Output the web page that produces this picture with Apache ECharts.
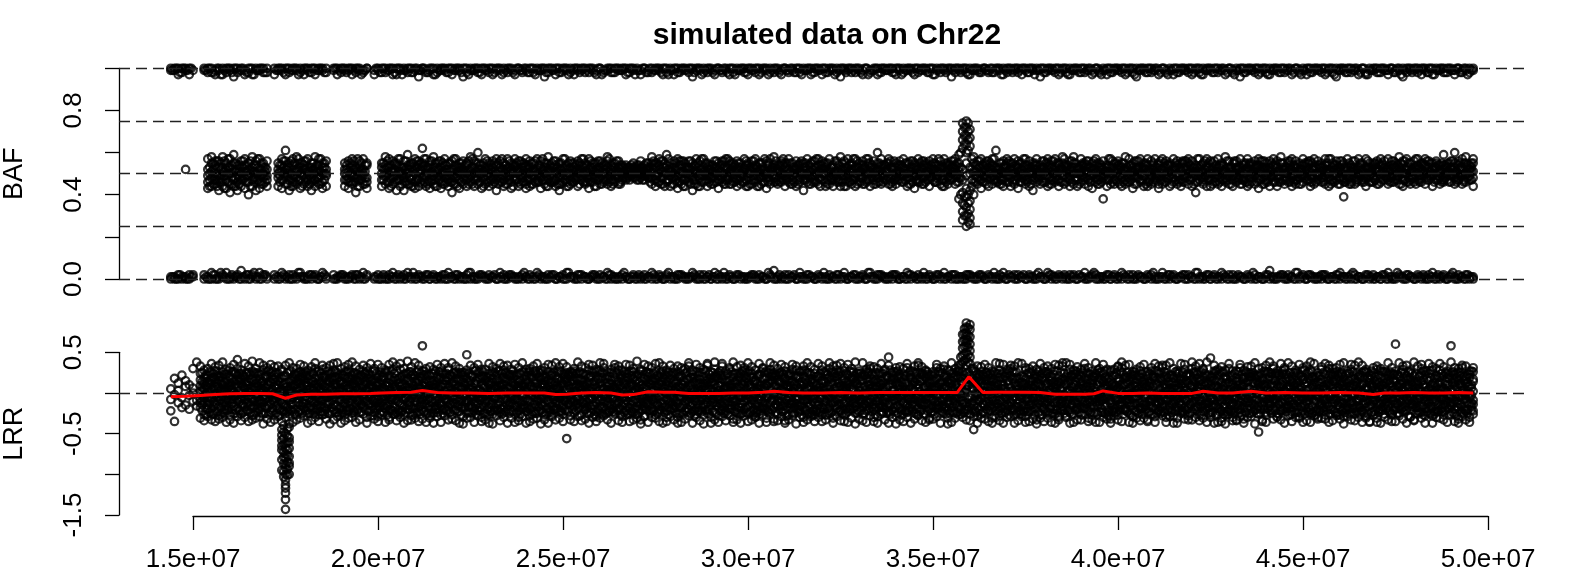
<!DOCTYPE html>
<html><head><meta charset="utf-8">
<script src="https://cdn.jsdelivr.net/npm/echarts/dist/echarts.min.js"></script>
<style>html,body{margin:0;padding:0;background:#fff}#c{width:1585px;height:576px}</style>
</head><body><div id="c"></div>
<script>
const chartTitle = 'simulated data on Chr22';
const POS_UNIT = 1e5; // positions in the tables are in units of 100 kb
const xTickValues = [1.5e7, 2.0e7, 2.5e7, 3.0e7, 3.5e7, 4.0e7, 4.5e7, 5.0e7];
const xTickLabels = ['1.5e+07','2.0e+07','2.5e+07','3.0e+07','3.5e+07','4.0e+07','4.5e+07','5.0e+07'];
const bafLabelValues = [0, 0.4, 0.8];
const lrrLabelValues = [-1.5, -0.5, 0.5];
const bafRefLines = [0, 0.25, 0.5, 0.75, 1];
const lrrRefLines = [0];

// BAF table: position : values near 1 : heterozygous values : values near 0 (hundredths)
const bafTable = `
144:100 99::0 1
145:99 100::1 0
146:97 100::0 2
147:100 98::1 0
148:99 100:52:0 1
149:100 97::2 0
150:99::2 1
153:99 100::0 2
154:100 98:52 46 57 43 49:1 0
155:98 100:48 55 44 51 58:0 3
156:99 97:50 45 54 47 56:2 0
157:100 99:53 42 49 56 46:0 1
158:97 100:47 51 58 44 53:1 2
159:100 98:55 49 43 52 47:3 0
160:99 100:45 53 50 57 41:0 1
161:100 96:51 47 55 44 59:1 0
162:98 100:49 54 42 52 46:2 1
163:100 99:56 44 50 47 53:0 4
164:99 97:43 51 57 48 54:1 0
165:100 98:52 40 46 55 49:0 2
166:97 100:47 53 44 58 51:2 1
167:100 99:54 48 42 50 56:0 1
168:99 100:46 52 57 43 49:3 0
169:100 98:50 55 45 53 48:1 2
170:98 100:44 49 56 52 47:0 1
172:100 97::2 0
173:99 100:48 55 50 44 52:0 1
174:100 99:51 43 57 47 54:1 3
175:97 100:45 52 49 56 61:0 1
176:100 98:55 47 53 42 50:2 0
177:99 100:49 54 46 57 44:0 2
178:100 99:52 45 58 48 51:1 0
179:98 100:47 53 43 55 50:3 1
180:100 97:54 49 56 45 52:0 1
181:99 100:50 44 51 57 47:1 0
182:100 98:46 55 48 53 42:0 2
183:97 100:53 47 52 44 58:2 1
184:100 99:48 51 57 45 54:0 0
185:99 100:55 50 46 53 43:1 3
186:100 98:44 52 49 56 50:0 1
188:99 100::2 0
189:100 97::0 1
190:98 100::1 2
191:100 99:52 47 55 44 50:0 1
192:99 100:48 56 43 51 46:1 0
193:100 97:54 50 45 57 49:2 1
194:98 100:46 53 41 52 48:0 2
195:100 99:51 44 56 47 53:1 0
196:99 98:57 49 52 45 50:0 3
197:100 100:43 54 48 55 46:2 1
199:99 97::1 0
200:100 99::0 2
201:98 100:50 55 47 53 44:1 0
202:100 98:45 52 58 49 54:0 1
203:99 100:53 46 50 43 57:2 0
204:100 97:48 56 51 45 52:1 3
205:97 100:55 42 49 54 47:0 1
206:100 99:51 47 57 44 50:1 0
207:99 100:46 53 48 56 42:0 2
208:100 98:54 50 45 52 59:3 1
209:98 100:49 44 55 47 53:0 1
210:100 99:52 57 43 50 46:1 0
211:99 96:47 51 56 44 54:2 1
212:100 100:55 48 53 62 45:0 1
213:99 98:44 52 49 57 50:1 2
214:100 99:50 46 54 43 56:0 0
215:97 100:53 49 45 58 47:2 1
216:100 98:48 55 51 44 52:0 1
217:99 100:56 43 50 53 46:1 0
218:100 99:45 51 57 48 54:0 2
219:98 100:52 47 44 55 49:3 0
220:100 97:49 56 52 46 41:1 1
221:99 100:54 45 50 57 48:0 2
222:100 99:47 53 43 51 55:1 0
223:96 100:51 48 56 45 52:0 1
224:100 98:55 50 47 54 44:2 0
225:99 100:46 52 58 49 51:0 3
226:100 99:53 44 50 56 47:1 0
227:98 100:48 55 45 52 60:0 1
228:100 97:52 49 54 43 50:2 1
229:99 100:45 57 51 47 53:1 0
230:100 98:50 46 55 52 44:0 2
231:97 100:56 51 48 45 53:1 1
232:100 99:47 54 42 50 57:0 0
233:99 100:53 48 56 46 51:3 1
234:100 98:44 52 49 55 47:0 2
235:98 100:51 57 45 53 49:1 0
236:100 99:55 46 50 43 52:2 1
237:99 97:48 53 57 47 54:0 1
238:100 100:52 44 51 56 46:1 0
239:99 98:46 55 48 53 50:0 2
240:100 99:54 49 45 57 43:1 1
241:98 100:50 53 47 44 56:2 0
242:100 98:45 51 55 49 52:0 1
243:99 100:57 47 52 46 50:1 3
244:100 99:49 56 43 53 48:0 1
245:96 100:53 45 50 55 47:1 0
246:100 98:47 52 58 44 51:0 2
247:99 100:55 48 46 53 50:2 1
248:100 97:44 54 51 47 56:0 0
249:98 100:52 49 55 45 42:1 1
250:100 99:48 57 50 53 46:0 2
251:99 100:54 46 52 44 49:3 0
252:100 98:50 53 47 56 45:1 1
253:97 100:46 51 55 48 53:0 1
254:100 99:56 48 44 52 50:2 0
255:99 100:49 54 47 51 57:0 2
256:100 98:53 45 50 46 55:1 1
257:98 100:47 52 57 49 43:0 0
258:100 99:51 55 46 53 48:2 1
259:99 97:55 49 52 44 50:1 0
260:100 100:45 53 48 56 51:0 2
261:99 98:52 47 54 50 46:1 1
262:100 99:48 56 45 53 58:0 3
263:98 100:54 50 47 52 44:2 0
264:100 98:46 53 51 55 49:0 1
265:99 100:51 45 56 48 53:1 0
266:100 99:53 49 47 54 50:0 2
267:97 100:50 52 48 54 47:1 1
268:100 98:52 49 51 47 53:0 0
269:99 100:48 53 50 52 55:2 1
270:100 99:51 47 54 49 52:0 1
271:99 97:53 50 48 52 56:1 0
272:100 100:49 54 51 47 50:0 2
273:98 99:52 48 55 50 53:1 1
274:100 98:55 45 51 58 48:3 0
275:99 100:47 53 49 55 44:0 1
276:100 99:52 57 46 50 54:1 2
277:97 100:45 51 56 48 53:0 0
278:100 98:54 47 50 59 46:2 1
279:99 100:49 55 44 52 51:0 1
280:100 97:56 48 53 45 50:1 0
281:98 100:46 52 57 49 43:0 2
282:100 99:51 45 54 48 56:2 1
283:99 100:53 50 47 55 44:1 0
284:100 98:48 56 52 46 53:0 1
285:96 100:55 47 49 53 42:1 3
286:100 99:50 54 45 51 57:0 1
287:99 100:44 52 56 48 50:2 0
288:100 98:53 46 51 57 49:0 2
289:98 100:49 55 47 44 53:1 1
290:100 99:52 48 54 50 45:0 0
291:99 97:46 53 50 56 51:3 1
292:100 100:55 49 43 52 47:0 2
293:99 98:50 56 48 54 46:1 0
294:100 99:47 52 57 45 53:0 1
295:97 100:54 45 51 49 56:2 1
296:100 98:48 53 46 55 50:0 0
297:99 100:52 47 56 44 51:1 2
298:100 99:45 55 50 53 48:0 1
299:98 100:57 49 53 46 52:1 0
300:100 97:50 44 55 48 54:0 1
301:99 100:53 51 47 56 45:2 1
302:100 98:46 54 52 49 57:1 0
303:97 100:51 48 44 55 50:0 2
304:100 99:55 52 49 46 53:1 1
305:99 100:48 56 51 43 50:0 0
306:100 98:52 45 57 50 47:2 1
307:98 100:49 53 46 54 58:0 4
308:100 99:54 47 52 45 51:1 0
309:99 97:46 55 50 56 48:0 1
310:100 100:51 49 53 44 55:2 0
311:99 98:57 46 48 52 50:0 2
312:100 99:45 53 55 49 47:1 1
313:98 100:52 50 44 56 53:0 0
314:100 98:48 54 51 46 55:3 1
315:99 100:55 47 53 50 42:1 0
316:100 99:50 52 46 57 49:0 2
317:97 100:53 45 55 48 51:1 1
318:100 98:47 56 49 53 46:0 0
319:99 100:51 48 57 45 54:2 1
320:100 97:54 52 47 50 56:0 1
321:98 100:46 50 53 55 44:1 0
322:100 99:52 57 45 49 51:0 2
323:99 100:49 44 54 47 53:1 1
324:100 98:55 51 48 56 46:2 0
325:96 100:50 47 52 44 58:0 1
326:100 99:44 53 56 51 49:1 3
327:99 100:57 49 46 53 50:0 0
328:100 98:47 55 52 45 54:1 1
329:98 100:53 50 44 57 48:2 0
330:100 99:49 46 55 51 53:0 1
331:99 97:52 54 48 45 56:1 2
332:100 100:46 51 57 50 47:0 0
333:99 98:55 48 53 44 51:3 1
334:100 99:50 56 47 52 45:1 0
335:97 100:48 52 55 46 60:0 2
336:100 98:54 45 50 57 49:2 1
337:99 100:47 53 49 54 51:0 1
338:100 99:51 57 45 48 55:1 0
339:98 100:53 49 52 46 44:0 2
340:100 97:45 55 50 53 48:2 1
341:99 100:56 47 54 51 49:0 0
342:100 98:49 53 46 57 52:1 1
343:99 100:52 44 55 48 50:0 3
344:100 99:47 56 51 53 45:2 0
345:97 100:55 50 43 49 54:1 1
346:100 98:50 46 57 52 47:0 2
347:99 100:53 52 48 45 56:1 0
348:100 99:46 54 50 55 49:0 1
349:98 100:51 48 56 44 53:2 1
350:100 97:55 57 47 50 52:0 0
351:99 100:48 51 54 46 49:1 2
352:100 98:52 45 50 56 53:0 1
353:99 100:57 49 53 47 44:3 0
354:100 99:45 54 51 48 55:1 1
355:96 100:50 47 56 53 51:0 2
356:100 98:54 52 45 49 57:2 0
357:99 100:48 55 51 46 53 59 38:0 1
358:100 99:52 62 66 70 74 28 32 36 41 47:1 0
359:98 100:49 60 64 68 72 75 25 30 34 39 43 55:0 2
360:100 97:53 63 67 71 26 29 33 37 42 50:2 1
361:99 100:46 55 58 40 51:1 0
362:100 99:52 48 56 45 54:0 1
363:99 98:47 53 50 57 43:1 2
364:100 100:55 49 46 52 48:0 0
365:98 99:50 56 53 44 51:2 1
366:100 98:45 52 57 49 54:0 1
367:99 100:53 47 50 61 46:1 0
368:100 99:48 55 52 45 50:0 2
369:97 100:56 50 47 53 44:3 1
370:100 98:51 46 55 49 57:0 0
371:99 100:44 53 48 52 55:1 1
372:100 99:52 57 45 50 47:2 0
373:98 100:49 51 56 43 53:0 2
374:100 97:55 46 52 48 50:1 1
375:99 100:47 54 49 57 45:0 0
376:100 98:53 48 44 51 56:2 1
377:99 100:50 55 47 53 42:1 0
378:100 99:46 52 57 49 54:0 2
379:96 100:54 49 51 45 52:1 1
380:100 98:48 56 53 50 46:0 0
381:99 100:52 44 49 55 57:3 1
382:100 99:45 53 56 47 51:0 2
383:98 100:57 50 46 53 48:1 0
384:100 97:51 47 54 44 55:2 1
385:99 100:49 55 52 58 46:0 1
386:100 98:54 46 48 51 53:1 0
387:97 100:47 52 56 49 44:0 2
388:100 99:53 58 45 50 55:2 1
389:99 100:50 44 53 47 52:0 0
390:100 98:46 51 57 54 49:1 1
391:98 100:55 48 50 45 53:0 3
392:100 99:44 53 47 56 51:1 0
393:99 97:52 49 55 43 50:2 1
394:100 100:48 57 51 46 54:0 2
395:99 98:55 45 49 53 47:1 0
396:100 99:50 52 38 56 48:0 1
397:97 100:47 54 53 44 51:2 1
398:100 98:53 49 57 50 45:0 0
399:99 100:45 51 47 55 52:1 2
400:100 99:56 46 52 49 54:0 1
401:98 100:50 55 44 53 48:3 0
402:100 97:47 52 58 51 45:1 1
403:99 100:54 48 50 46 57:0 2
404:100 98:49 53 55 43 51:2 0
405:96 100:52 45 48 56 53:0 1
406:100 99:46 57 51 50 47:1 1
407:99 100:55 49 53 44 52:0 0
408:100 98:51 44 46 54 57:2 1
409:98 100:48 56 52 49 45:0 2
410:100 99:53 50 57 47 51:1 0
411:99 97:45 54 49 55 43:0 1
412:100 100:57 47 52 45 50:3 1
413:99 98:50 53 46 56 48:1 0
414:100 99:44 51 55 49 54:0 2
415:97 100:53 57 48 52 46:2 1
416:100 98:49 45 54 50 56:0 0
417:99 100:55 52 47 44 51:1 1
418:100 99:46 49 56 53 48:0 2
419:98 100:52 55 50 45 57:2 0
420:100 97:48 44 53 56 50:1 1
421:99 100:54 51 46 49 41:0 3
422:100 98:50 57 52 47 53:1 0
423:97 100:45 48 55 51 46:0 1
424:100 99:53 54 49 57 44:2 1
425:99 100:47 50 44 52 56:0 0
426:100 98:56 46 51 48 53:1 2
427:98 100:51 53 57 45 49:0 1
428:100 99:44 55 50 54 47:3 0
429:99 97:52 48 46 58 51:1 1
430:100 100:49 56 53 45 50:0 2
431:99 98:55 47 51 49 44:2 0
432:100 99:46 52 56 53 48:0 1
433:96 100:53 45 49 57 51:1 1
434:100 98:48 54 47 50 55:0 0
435:99 100:57 51 44 53 46:2 1
436:100 99:50 46 55 48 52:1 0
437:98 100:45 53 52 56 49:0 2
438:100 97:54 49 57 47 43:1 1
439:99 100:51 56 45 50 53:0 0
440:100 98:47 52 49 55 46:2 1
441:97 100:53 44 56 51 48:0 4
442:100 99:49 57 50 46 54:1 0
443:99 100:56 48 53 44 51:0 1
444:100 98:46 51 55 49 58:2 1
445:98 100:52 45 47 53 50:1 0
446:100 99:55 53 51 46 56:0 2
447:99 97:48 50 44 57 52:1 1
448:100 100:53 47 56 49 45:3 0
449:99 98:45 55 52 51 48:0 1
450:100 99:57 49 46 54 50:1 2
451:97 100:50 52 55 47 53:0 0
452:100 98:44 56 49 51 46:2 1
453:99 100:53 48 57 45 52:0 1
454:100 99:47 54 50 56 49:1 0
455:98 100:55 46 53 48 51:0 2
456:100 97:49 51 45 57 54:2 1
457:99 100:52 57 48 44 50:0 0
458:100 98:46 49 55 53 47:1 1
459:96 100:54 52 47 50 56:0 2
460:100 99:51 45 56 48 53:3 0
461:99 100:48 55 52 46 39:1 1
462:100 98:53 47 50 57 49:0 1
463:98 100:45 53 54 51 46:2 0
464:100 99:56 50 48 45 52:0 2
465:99 97:50 57 53 49 47:1 1
466:100 100:47 52 46 55 51:0 0
467:97 98:53 48 57 44 50:2 1
468:100 99:49 55 51 53 46:1 0
469:99 100:55 46 49 48 54:0 2
470:100 98:52 51 56 45 53:1 1
471:98 100:46 54 50 57 48:0 0
472:100 99:51 47 53 49 56:2 1
473:99 97:57 52 45 51 47:0 3
474:100 100:48 56 54 46 50:1 0
475:99 98:53 49 47 55 52:0 1
476:100 99:45 53 51 58 49:2 1
477:96 100:54 50 56 47 44:1 0
478:100 98:50 46 52 53 57:0 2
479:99 100:47 55 49 45 51:1 1
480:100 99:56 51 53 48 46:0 0
481:98 100:52 57 47 50 54:2 1
482:100 97:46 48 55 52 49:0 1
483:99 100:53 54 50 45 57:1 0
484:100 98:49 47 56 51 53:0 2
485:97 100:55 52 44 49 50:3 1
486:100 99:48 56 53 47 55:1 0
487:99 100:51 45 50 54 48:0 1
488:100 98:54 59 47 52 46:2 1
489:98 100:47 53 55 50 51:0 0
490:100 99:52 49 46 56 53:1 2
491:99 97:45 55 51 48 60:0 1
492:100 100:56 50 54 47 49:2 0
493:99 98:49 52 57 53 45:1 1
494:100 99:53 46 50 55 58:0 2
495:98 100:47 54 52 49 51:1 0
496:100 99:51 48 55 44 57:0 1
`;

// extra BAF probes lying between the columns above (same layout)
const bafTableB = `
144.5:99::1
145.5:100::0
146.5:98::2
147.5:100::1
148.5:99::0
149.5:100::1
153.5:99::1
154.5:100:47 53 50 44:0
155.5:98:52 45 55 49:2
156.5:100:44 50 56 47:0
157.5:97:55 48 46 52:3
158.5:99:49 56 43 51:1
159.5:100:53 46 50 57:0
160.5:98:45 52 48 54:2
161.5:100:51 44 55 48:1
162.5:99:48 54 51 45:0
163.5:100:53 47 49 56:1
164.5:98:46 51 54 49:2
165.5:100:50 56 44 52:0
166.5:97:54 48 51 46:3
167.5:99:47 53 57 50:1
168.5:100:52 45 49 55:0
169.5:98:49 51 46 53:2
172.5:99::1
173.5:100:51 46 54 49:0
174.5:98:47 53 50 56:2
175.5:100:54 49 45 52:1
176.5:99:50 56 48 44:0
177.5:100:46 52 55 49:1
178.5:97:53 47 51 57:3
179.5:99:49 55 44 50:1
180.5:100:52 48 56 46:0
181.5:98:45 51 53 49:2
182.5:100:55 47 50 52:1
183.5:99:48 54 46 51:0
184.5:100:51 45 57 49:1
185.5:98:47 53 50 55:2
188.5:100::0
189.5:99::1
190.5:100::2
191.5:98:49 54 47 52:0
192.5:100:53 46 55 50:1
193.5:99:46 52 49 56:0
194.5:100:51 57 48 44:2
195.5:97:55 49 52 47:1
196.5:99:48 51 54 45:0
199.5:100::1
200.5:98::0
201.5:100:52 47 55 49:2
202.5:99:46 53 50 56:0
203.5:100:54 48 44 51:1
204.5:98:49 55 52 46:0
205.5:100:47 51 57 53:2
206.5:97:53 45 49 50:1
207.5:99:50 56 46 52:0
208.5:100:45 52 54 48:1
209.5:98:55 49 51 44:3
210.5:100:48 53 47 56:0
211.5:99:52 46 50 55:1
212.5:100:46 54 57 49:0
213.5:98:53 50 45 52:2
214.5:100:49 56 51 47:1
215.5:97:55 47 53 44:0
216.5:99:47 52 49 56:1
217.5:100:51 45 55 50:2
218.5:98:54 49 46 52:0
219.5:100:46 55 51 48:1
220.5:99:52 48 57 45:0
221.5:100:49 53 44 51:2
222.5:98:55 46 50 53:1
223.5:100:47 51 54 49:0
224.5:97:52 56 48 45:3
225.5:99:45 50 53 57:1
226.5:100:51 47 55 49:0
227.5:98:54 52 46 50:2
228.5:100:48 55 51 44:1
229.5:99:53 46 49 56:0
230.5:100:50 54 47 52:1
231.5:98:46 49 55 51:2
232.5:100:55 51 45 48:0
233.5:97:49 57 52 46:1
234.5:99:52 45 50 54:0
235.5:100:47 53 56 49:2
236.5:98:54 48 44 51:1
237.5:100:50 55 52 47:0
238.5:99:45 51 49 56:1
239.5:100:53 46 55 50:3
240.5:98:48 52 47 54:0
241.5:100:55 49 51 45:1
242.5:97:51 56 46 52:0
243.5:99:46 50 54 48:2
244.5:100:52 47 57 51:1
245.5:98:49 55 44 53:0
246.5:100:54 51 49 46:1
247.5:99:47 46 53 56:2
248.5:100:51 53 50 45:0
249.5:98:45 49 55 52:1
250.5:100:53 57 47 49:0
251.5:97:50 44 52 55:3
252.5:99:55 52 48 46:1
253.5:100:48 47 54 51:0
254.5:98:52 55 45 50:2
255.5:100:46 50 57 53:1
256.5:99:54 46 51 48:0
257.5:100:49 53 46 56:1
258.5:98:51 48 55 44:2
259.5:100:47 56 50 52:0
260.5:97:55 45 49 53:1
261.5:99:50 52 54 47:0
262.5:100:46 49 51 57:2
263.5:98:53 55 47 45:1
264.5:100:49 51 56 50:0
265.5:99:52 46 45 54:1
266.5:100:48 53 50 51:3
267.5:98:51 49 53 48:0
268.5:100:49 52 50 54:1
269.5:97:53 48 51 50:0
270.5:99:50 54 47 52:2
271.5:100:47 51 53 49:1
272.5:98:52 49 50 55:0
273.5:100:48 53 46 51:1
274.5:99:54 47 52 56:2
275.5:100:46 50 55 49:0
276.5:98:51 56 48 45:1
277.5:100:55 44 50 53:0
278.5:97:49 52 57 47:3
279.5:99:53 48 45 51:1
280.5:100:47 55 52 49:0
281.5:98:50 46 54 56:2
282.5:100:56 51 47 44:1
283.5:99:48 53 50 52:0
284.5:100:52 45 56 49:1
285.5:98:45 54 51 47:2
286.5:100:53 49 44 55:0
287.5:97:49 57 52 46:1
288.5:99:51 47 55 50:0
289.5:100:46 52 49 54:2
290.5:98:54 48 51 45:1
291.5:100:50 56 46 53:0
292.5:99:47 51 54 49:1
293.5:100:53 45 50 56:3
294.5:98:49 53 57 47:0
295.5:100:55 50 45 52:1
296.5:97:48 54 51 46:0
297.5:99:52 47 53 55:2
298.5:100:46 51 49 50:1
299.5:98:54 56 47 44:0
300.5:100:50 45 52 53:1
301.5:99:47 53 56 49:2
302.5:100:53 49 44 51:0
303.5:98:45 52 55 48:1
304.5:100:51 57 50 46:0
305.5:97:55 46 48 54:3
306.5:99:49 51 53 52:1
307.5:100:52 48 46 56:0
308.5:98:46 54 51 50:2
309.5:100:54 50 57 47:1
310.5:99:48 47 52 55:0
311.5:100:51 55 45 49:1
312.5:98:53 46 50 52:2
313.5:100:47 52 54 45:0
314.5:97:50 49 56 51:1
315.5:99:55 53 47 48:0
316.5:100:49 45 51 54:2
317.5:98:52 56 49 46:1
318.5:100:46 50 53 57:0
319.5:99:54 48 44 52:1
320.5:100:50 52 55 49:3
321.5:98:47 55 51 45:0
322.5:100:53 47 48 53:1
323.5:97:49 51 56 50:0
324.5:99:51 54 46 47:2
325.5:100:46 49 52 55:1
326.5:98:55 53 50 44:0
327.5:100:48 46 54 51:1
328.5:99:52 57 47 49:2
329.5:100:45 50 53 56:0
330.5:98:54 48 51 46:1
331.5:100:50 53 45 52:0
332.5:97:47 55 57 50:3
333.5:99:53 49 48 54:1
334.5:100:49 52 51 45:0
335.5:98:51 46 55 53:2
336.5:100:46 54 50 48:1
337.5:99:55 51 47 52:0
338.5:100:48 45 53 56:1
339.5:98:52 56 49 47:2
340.5:100:47 50 54 51:0
341.5:97:54 53 46 49:1
342.5:99:50 47 52 55:0
343.5:100:45 55 51 48:2
344.5:98:53 49 56 46:1
345.5:100:49 52 47 53:0
346.5:99:51 46 55 50:1
347.5:100:56 54 48 45:3
348.5:98:47 51 50 53:0
349.5:100:52 48 54 49:1
350.5:97:46 55 46 52:0
351.5:99:54 50 51 57:2
352.5:100:49 53 47 44:1
353.5:98:53 46 55 51:0
354.5:100:47 52 49 54:1
355.5:99:51 56 53 48:2
356.5:100:55 49 46 50:0
357.5:98:48 53 60 40:1
358.5:100:64 68 72 30 35 39:0
359.5:97:61 66 70 74 27 31 36 40:2
360.5:99:52 57 44 47:1
361.5:100:49 54 51 46:0
362.5:98:53 47 56 50:2
363.5:100:46 51 49 54:1
364.5:99:54 56 45 48:0
365.5:100:50 48 52 55:1
366.5:98:47 53 57 49:3
367.5:100:52 46 50 53:0
368.5:97:55 51 47 45:1
369.5:99:48 54 53 51:0
370.5:100:51 49 46 56:2
371.5:98:46 52 55 50:1
372.5:100:54 47 49 53:0
373.5:99:49 55 51 46:1
374.5:100:53 50 57 48:2
375.5:98:47 46 52 54:0
376.5:100:51 53 45 50:1
377.5:97:55 48 54 52:0
378.5:99:48 51 50 47:3
379.5:100:52 56 46 53:1
380.5:98:46 49 55 51:0
381.5:100:54 53 48 45:2
382.5:99:50 47 52 56:1
383.5:100:47 55 51 49:0
384.5:98:53 50 46 52:1
385.5:100:49 45 54 57:2
386.5:97:52 54 50 48:0
387.5:99:46 51 56 53:1
388.5:100:55 48 47 50:0
389.5:98:50 53 52 45:2
390.5:100:47 49 55 54:1
391.5:99:54 56 48 51:0
392.5:100:48 46 53 49:1
393.5:98:52 52 50 56:3
394.5:100:45 55 47 51:0
395.5:97:53 49 54 46:1
396.5:99:49 51 51 53:0
397.5:100:51 47 57 48:2
398.5:98:56 53 46 50:1
399.5:100:47 50 52 55:0
400.5:99:53 54 49 45:1
401.5:100:50 46 55 52:2
402.5:98:46 52 48 53:0
403.5:100:54 49 51 47:1
404.5:97:49 56 45 51:0
405.5:99:52 48 53 56:2
406.5:100:47 53 50 49:1
407.5:98:55 45 54 52:0
408.5:100:50 51 47 46:1
409.5:99:46 55 52 54:3
410.5:100:53 48 49 50:0
411.5:98:49 52 56 47:1
412.5:100:51 46 53 55:0
413.5:97:54 54 48 51:2
414.5:99:48 50 51 45:1
415.5:100:52 47 55 53:0
416.5:98:46 53 50 49:1
417.5:100:55 49 46 56:2
418.5:99:50 56 52 48:0
419.5:100:47 51 54 52:1
420.5:98:53 45 49 50:0
421.5:100:49 53 57 46:3
422.5:97:51 48 51 54:1
423.5:99:56 52 47 49:0
424.5:100:48 47 53 55:2
425.5:98:52 55 50 45:1
426.5:100:46 50 54 51:0
427.5:99:54 46 48 53:1
428.5:100:50 54 51 47:2
429.5:98:47 49 56 50:0
430.5:100:53 51 45 52:1
431.5:97:49 56 50 55:0
432.5:99:52 47 53 48:2
433.5:100:45 53 47 51:1
434.5:98:55 50 52 46:0
435.5:100:48 45 55 54:1
436.5:99:51 54 49 50:3
437.5:100:54 48 46 53:0
438.5:98:47 52 51 56:1
439.5:100:52 56 53 45:0
440.5:97:49 46 50 52:2
441.5:99:55 51 48 49:1
442.5:100:46 53 54 55:0
443.5:98:51 49 46 51:1
444.5:100:53 55 52 47:2
445.5:99:48 47 50 53:0
446.5:100:54 52 56 46:1
447.5:98:50 46 49 54:0
448.5:100:47 54 53 50:3
449.5:97:52 49 45 52:1
450.5:99:49 51 55 48:0
451.5:100:55 56 47 51:2
452.5:98:46 48 52 55:1
453.5:100:53 50 50 46:0
454.5:99:50 53 54 49:1
455.5:100:48 47 46 53:2
456.5:98:52 55 51 50:0
457.5:100:45 51 57 47:1
458.5:97:54 46 49 52:0
459.5:99:51 52 53 45:2
460.5:100:47 56 50 54:1
461.5:98:53 49 46 51:0
462.5:100:49 45 55 48:1
463.5:99:52 53 51 56:3
464.5:100:46 50 47 52:0
465.5:98:55 54 53 49:1
466.5:100:50 48 49 46:0
467.5:97:48 52 56 53:2
468.5:99:53 46 50 51:1
469.5:100:47 55 52 47:0
470.5:98:51 51 45 55:1
471.5:100:55 47 54 50:2
472.5:99:49 53 48 52:0
473.5:100:52 49 51 46:1
474.5:98:46 56 53 54:0
475.5:100:54 50 47 49:3
476.5:97:50 45 55 52:1
477.5:99:47 52 50 56:0
478.5:100:53 55 46 48:2
479.5:98:49 48 52 51:1
480.5:100:52 53 57 45:0
481.5:99:46 47 49 53:1
482.5:100:55 51 54 50:2
483.5:98:50 56 48 47:0
484.5:100:48 49 51 55:1
485.5:97:53 46 53 52:0
486.5:99:51 54 47 49:2
487.5:100:47 52 55 46:1
488.5:98:54 48 50 53:0
489.5:100:49 55 46 51:1
490.5:99:52 50 53 56:3
491.5:100:46 47 51 48:0
492.5:98:55 53 49 52:1
493.5:100:50 46 55 47:0
494.5:97:48 54 52 50:2
495.5:99:53 51 47 55:1
`;

// LRR table: position : values (hundredths)
const lrrTable = `
144:5 -8 -22
145:18 -2 -35
146:12 -12 3
147:22 -6 -18
148:8 -15 15
149:-3 10 -20
150:30 -10 0 6
151:38 -9 -16
152:-31 -18 -7 2 9 16 24 33 -12
153:28 -12 5 -27 19 -3 12 -34 -6
154:-20 30 -9 14 -29 7 22 -15 1
155:11 -33 25 -6 36 -19 4 18 -26
156:-14 8 32 -23 17 -35 27 -2 13
157:21 -28 -10 34 6 -17 -32 15 -4
158:-5 19 -24 3 38 -13 10 -30 26
159:16 -9 -36 23 0 -21 29 7 -15
160:-27 12 4 -11 31 -33 20 -2 9
161:35 -16 -4 26 -25 14 -8 1 -37
162:-10 22 -29 8 15 -19 41 -3 30
163:3 -26 17 -14 28 -6 -34 11 24
164:-23 6 36 -1 -17 20 -30 13 -8
165:14 -35 9 -22 2 33 -12 25 -5
166:-7 27 -18 39 -28 5 16 -11 -33
167:24 -2 -31 12 -15 30 -24 7 18
168:-29 17 5 -9 37 -21 0 23 -13
169:9 -12 -38 28 -4 14 -26 34 3
170:-16 31 -6 21 -32 8 -19 11 26
171:20 -24 13 -3 -36 25 2 -14 35
172:-1 8 -27 32 -11 17 -33 22 -7
173:33 -19 6 -13 24 -29 10 -5 15
174:-12 27 -35 4 18 -8 29 -22 -45 -58 -70 -82 -95 -52 -65
174.5:-40 -48 -56 -63 -72 -79 -87 -96 -103
175:7 -30 21 -17 -3 34 -25 12 -50 -62 -75 -88 -100 -107 -113 -117 -123 -131 -143 -92 -80 -68
175.5:-44 -53 -61 -70 -77 -85 -94 -101
176:-26 14 -9 37 -20 3 26 -38 -42 -55 -68 -78 -90 -100 -60 -86
177:17 -6 31 -23 9 -14 -36 20 2
178:-33 23 -12 5 30 -27 15 -3 11
179:26 -15 -1 12 -31 19 -22 7 35
180:-8 33 -19 -28 10 1 24 -13 16
181:13 -37 28 -6 -18 21 4 -25 9
182:-21 5 15 -34 26 -10 32 -2 -16
183:30 -4 -24 18 -12 37 -30 11 0
184:-3 20 -14 27 -35 8 -7 14 -27
185:10 -27 34 -17 3 -23 19 -9 29
186:-32 16 -5 22 -13 31 -1 -20 6
187:18 -11 24 -38 7 -26 13 34 -4
188:-15 36 -21 1 28 -6 -33 16 11
189:4 -29 10 -16 25 -2 37 -24 19
190:-25 13 -37 30 -8 15 -18 5 23
191:32 -7 19 -12 -27 9 26 -34 -1
192:-11 28 -3 -22 14 -31 6 20 35
193:22 -19 38 -8 -1 17 -25 11 -30
194:-36 2 16 -14 33 -5 24 -20 8
195:7 -24 -12 29 -33 21 -9 3 14
196:-18 34 8 -26 19 -2 -15 27 -6
197:26 -10 -30 12 4 -37 18 -4 31
198:-2 15 -21 36 -13 7 -28 22 10
199:13 -32 27 -7 -19 30 2 -11 -24
200:-29 9 -8 19 35 -16 12 -35 1
201:20 -5 31 -23 6 -12 -27 16 25
202:-13 25 -36 3 -4 28 -19 9 -9
203:35 -21 12 -30 21 -1 8 -15 -33
204:-6 11 -26 38 -17 15 -3 29 -22
205:16 -34 2 -10 27 -24 33 -7 5
206:-24 29 -13 8 -30 19 -1 13 36
207:1 -17 23 -37 11 -8 30 -27 17
208:-34 7 18 -4 39 -20 -12 24 -2
209:12 -28 -7 26 -16 4 21 -33 32
210:-19 21 37 -11 2 -31 14 -6 -25
211:28 -1 -23 15 -35 10 -17 34 6
212:-8 18 -32 58 -14 27 5 -21 9
213:23 -13 4 -26 30 -9 -36 17 -3
214:-31 32 -16 9 -6 22 1 -28 14
215:6 -25 29 -18 15 -37 11 -2 24
216:-16 14 -4 35 -24 3 -29 20 -10
217:31 -36 19 -1 8 -15 26 -12 -27
218:-3 10 -28 23 -20 36 -7 16 2
219:19 -22 7 -33 28 -11 -2 31 -17
220:-27 37 -14 4 -32 13 21 -5 11
221:10 -8 26 -21 1 -34 17 -13 33
222:-37 24 -2 16 -10 30 -23 8 -15
223:25 -17 13 -29 22 -4 -38 6 19
224:-12 3 47 -9 -25 18 -1 28 -31
225:15 -30 22 -15 5 -24 34 -6 9
226:-22 27 -11 31 -36 2 12 -19 -4
227:4 -14 35 -28 17 -7 -21 25 -1
228:-35 19 -6 11 -18 29 -30 1 21
229:29 -3 -25 20 -9 -33 8 15 -13
230:-9 36 14 -17 24 -2 -27 10 -37
231:18 -26 3 -38 13 26 -12 32 -5
232:-28 8 30 -5 -21 16 -1 -15 22
233:2 -19 -34 27 -11 9 36 -24 12
234:-17 33 11 -24 4 -30 19 -8 28
235:34 -9 -20 17 -37 1 -14 23 7
236:-5 22 -31 6 29 -13 -3 13 -23
237:21 -36 16 -2 -16 35 -26 10 -8
238:-30 14 -12 24 8 -22 3 -34 31
239:9 -4 26 -19 -29 12 -9 37 -15
240:-23 29 -37 14 -7 21 -18 2 16
241:27 -20 8 -35 19 -1 30 -11 -28
242:-14 6 -24 33 -3 26 -32 17 4
243:12 -31 23 -10 36 -16 7 -25 -2
244:-38 18 -7 28 -14 3 -21 11 25
245:3 -12 31 -27 10 -6 20 -33 15
246:-19 35 -1 9 -24 16 -37 26 -9
247:24 -27 12 -16 2 -29 22 -3 34
248:-10 4 -33 21 -12 37 -5 13 -20
249:32 -23 17 -7 -31 6 27 -14 -1
250:-26 11 -15 36 -4 -19 9 23 -35
251:14 -6 -56 25 -22 32 -11 4 18
252:-33 26 5 -13 20 -2 -28 14 -8
253:8 -35 30 -24 15 -10 1 -17 27
254:-4 17 -19 38 -29 11 -6 24 -13
255:23 -11 -27 4 33 -34 16 -1 9
256:-20 31 9 -21 -3 22 -32 7 -14
257:35 -16 -8 19 -26 3 13 -37 28
258:-7 25 -30 12 -15 34 -20 1 6
259:16 -2 21 -35 7 -12 29 -23 -29
260:-31 12 -17 27 -9 -25 4 18 37
261:5 -28 36 -4 24 -18 -11 31 -2
262:-15 20 -6 -33 13 8 -24 -10 26
263:29 -37 16 3 -20 25 -3 -15 11
264:-24 7 -26 31 -13 1 19 -7 35
265:11 -19 33 -11 -34 28 -4 14 -21
266:-36 28 -1 17 6 -16 -29 22 -6
267:19 -9 -22 35 -27 10 -14 3 24
268:-2 34 -35 8 -18 -5 26 -25 13
269:26 -24 10 -20 30 -33 2 17 -11
270:-12 16 -31 22 -2 39 -16 6 -27
271:1 -33 27 -14 -7 19 -38 29 9
272:-28 23 7 -29 18 -11 35 -4 -17
273:33 -14 -21 13 -1 25 -9 -36 20
274:-8 2 31 -23 -30 15 12 -19 -5
275:17 -31 -12 26 9 -6 -27 36 3
276:-21 37 -4 -16 21 -35 6 11 -24
277:7 -18 19 -37 33 -2 -13 27 16
278:-35 10 28 -8 -22 14 -1 22 -30
279:22 -7 -29 18 4 -21 34 -12 -3
280:-5 30 -16 3 -33 24 -8 15 -19
281:14 -26 8 -30 26 -13 20 -37 33
282:-25 21 -36 11 -4 31 -18 1 7
283:30 -1 13 -22 -15 6 -32 24 -10
284:-11 33 -20 37 -28 17 -5 9 -2
285:4 -37 23 -5 12 -23 28 -14 19
286:-30 15 -10 26 -19 1 -26 35 -7
287:25 -22 2 -34 31 -9 11 -1 17
288:-14 8 -27 20 -3 29 -17 -38 12
289:12 -12 34 -25 -6 16 4 -21 36
290:-37 26 -15 5 19 -30 -2 13 -9
291:20 -4 -33 29 -12 10 -24 38 1
292:-6 18 9 -36 25 -17 -8 3 -28
293:36 -29 17 -2 -21 33 -11 22 -16
294:-22 5 -24 14 -34 -4 27 -13 8
295:9 -15 29 -19 2 -28 15 -6 31
296:-32 38 -7 23 -11 12 -36 19 -1
297:15 -21 3 -9 32 -24 7 -33 24
298:-18 24 -37 34 -5 18 -13 6 -26
299:31 -10 14 -28 21 -1 -20 28 10
300:-1 13 -25 9 -35 26 -7 -16 37
301:24 -33 19 -13 7 -22 32 -3 -9
302:-29 28 -3 -24 16 2 -30 14 -14
303:6 -8 36 -17 -26 23 10 -37 21
304:-16 31 -19 30 -2 -12 18 -27 4
305:19 -36 11 -6 27 -31 -4 9 -21
306:-26 3 -11 24 -20 37 -15 29 13
307:34 -18 24 -32 8 -9 20 -1 -35
308:-9 22 -34 6 -15 30 -26 16 -4
309:13 -3 -16 35 -29 4 -10 25 -23
310:-34 17 27 -21 11 -37 1 -12 32
311:21 -27 -6 15 -1 23 -33 8 -13
312:-3 35 -28 -11 29 -14 14 -24 2
313:28 -13 9 -38 20 -4 -19 33 -8
314:-20 6 -22 19 -30 11 3 -16 26
315:10 -30 33 -3 -18 28 -9 21 -36
316:-33 25 -8 12 5 -26 37 -2 -12
317:17 -5 -29 32 -24 14 -14 7 23
318:-12 29 16 -27 -7 -20 24 -35 4
319:1 -24 21 -15 36 -11 6 18 -30
320:-27 12 -35 28 -3 33 -18 -6 15
321:26 -16 4 -33 13 -1 -27 23 -10
322:-7 37 -18 8 -22 19 -5 30 -25
323:33 -2 -31 20 -12 25 -37 11 -1
324:-19 20 7 -8 28 -29 15 -15 34
325:5 -34 26 -23 -4 9 -21 36 -14
326:-35 9 -13 31 -27 17 -2 2 27
327:22 -23 35 -1 14 -36 12 -18 -6
328:-4 16 -20 25 -10 4 30 -31 19
329:12 -38 14 -16 38 -7 -25 21 -12
330:-23 27 -9 3 -32 24 -13 -3 8
331:37 -12 22 -26 6 -17 16 -34 -2
332:-10 4 -36 29 17 -1 -22 26 -16
333:16 -19 10 -11 -28 33 5 -8 30
334:-30 32 -4 21 -14 7 -35 14 -20
335:8 -29 30 -37 23 -10 -6 1 13
336:-17 15 -23 11 -1 36 -16 -26 24
337:27 -6 18 -19 -33 2 29 -12 -5
338:-24 44 -14 34 9 -22 -3 19 -37
339:3 -21 25 -4 16 -30 11 -9 22
340:-38 11 -2 26 -17 13 -28 31 -7
341:20 -33 32 -14 4 -5 23 -19 9
342:-11 23 -26 7 -35 30 -12 -1 17
343:31 -15 1 -30 12 -24 36 -7 -22
344:-6 19 -37 17 -10 22 -19 27 -3
345:14 -25 13 -8 33 -15 3 -32 25
346:-28 34 -18 37 -5 10 -27 6 -11
347:23 -1 -12 -21 24 -34 17 -14 32
348:-15 8 27 -36 -2 19 -8 28 -26
349:7 -31 -5 22 14 -20 -33 12 1
350:-32 26 15 -9 -23 5 21 -16 -1
351:18 -10 -29 31 -15 35 -4 8 -19
352:-1 30 -17 2 -37 13 -25 24 11
353:29 -20 6 -25 20 -7 33 -2 -14
354:-21 14 -38 16 -12 28 -9 -31 4
355:11 -36 24 -3 7 -18 15 -22 37
356:-25 5 -7 30 -31 21 -14 10 -4
357:19 -17 34 -19 2 -27 26 -6 28 31
358:-9 26 -24 12 -13 3 38 46 55 63 72 -30 18
359:24 -12 9 -33 34 42 50 58 66 74 81 86 -20 4 62 70
360:-34 16 -14 21 -5 36 44 52 60 69 78 84 -26
361:13 -45 27 -10 -23 30 -16 5 -29
362:-18 33 -1 -28 19 -8 23 -37 7
363:32 -26 15 -6 -17 11 -31 26 -3
364:-5 10 -32 35 -25 2 16 -14 20
365:16 -35 22 -16 8 -22 31 -2 -10
366:-31 22 -10 8 -37 27 -6 14 -19
367:8 -9 37 -22 3 -13 24 -30 12
368:-22 28 -28 19 -9 36 -18 0 -34
369:35 -19 5 -37 25 -3 10 -24 18
370:-14 2 -21 24 -30 15 -4 29 -8
371:21 -29 30 -12 -2 -16 34 -11 6
372:-37 18 -4 33 12 -27 1 -20 25
373:4 -23 18 -1 -34 9 -13 37 -17
374:-26 36 -16 13 21 -6 -29 7 -3
375:28 -8 11 -29 -19 31 -1 17 -36
376:-10 25 -35 4 30 -23 14 -15 10
377:15 -32 -7 27 -14 6 -22 33 -5
378:-33 12 23 -18 -4 19 -38 3 29
379:2 -15 -27 10 36 -31 8 -9 21
380:-20 31 -12 -6 15 -18 26 -35 -1
381:26 -4 33 -31 -11 24 -7 12 -24
382:-7 20 -25 16 -36 4 -16 30 9
383:11 -37 7 -20 27 -12 2 -26 35
384:-28 14 -30 34 -1 13 -33 21 -9
385:33 -11 17 -10 -22 37 -5 6 -17
386:-12 37 -19 1 10 -28 20 -13 -30
387:20 -24 29 -37 -6 15 -21 35 3
388:-36 7 -2 23 -26 -9 11 -4 28
389:6 -18 26 -14 32 -33 -12 18 -20
390:-17 29 -33 11 -10 21 5 -27 14
391:30 -6 4 -26 19 -19 36 -1 -11
392:-3 17 -22 31 -31 8 -8 24 -35
393:12 -33 20 -4 -15 27 -27 9 16
394:-24 24 -11 37 2 -16 -3 -36 22
395:25 -14 -36 18 -7 30 13 -10 -2
396:-8 35 13 -24 24 -5 -30 15 7
397:17 -27 -5 6 -21 11 29 -32 -15
398:-32 4 28 -13 16 -37 -9 26 1
399:9 -20 -18 29 -3 22 -24 3 -28
400:-15 32 -27 14 -33 7 18 -8 33
401:31 -1 10 -35 25 -11 -15 38 -6
402:-21 19 -9 20 -19 -2 34 -22 11
403:3 -36 35 -8 6 -25 -1 16 -13
404:-29 9 -15 26 -29 16 22 -7 -37
405:22 -13 -23 3 13 -31 8 29 -4
406:-1 27 -34 32 -12 1 -20 -18 19
407:14 -31 16 -18 35 -14 -6 11 -24
408:-35 21 -2 9 -24 26 -33 4 14
409:27 -7 31 -26 -8 12 2 -16 -11
410:-11 15 -20 36 -36 -4 19 -29 27
411:5 -23 24 -7 18 -21 -12 33 -2
412:-23 34 -13 15 -2 31 -28 8 -17
413:34 -16 6 -30 10 -9 25 -36 21
414:-6 11 -29 22 -18 37 -15 -3 5
415:18 -37 19 -3 -28 6 13 -11 30
416:-31 24 -7 27 4 -22 -37 20 -9
417:10 -10 36 -22 -14 17 3 -25 15
418:-19 3 -26 12 29 -32 -8 35 -1
419:23 -28 12 -15 -4 24 -19 1 -33
420:-4 30 -33 38 -23 9 16 -12 8
421:13 -21 -1 -11 33 -17 -30 26 -6
422:-27 16 25 -34 7 2 -10 14 36
423:30 -5 -16 20 -31 28 -2 -23 -14
424:-13 38 4 -6 -20 -12 21 -36 11
425:20 -30 43 -27 15 -7 -24 9 -3
426:-37 8 -14 16 -9 34 -17 27 24
427:7 -17 29 -19 22 -36 5 -5 -26
428:-22 25 -31 5 -35 13 -11 32 2
429:28 -9 18 -38 -1 20 -27 -14 12
430:-9 13 -21 30 -26 -3 36 -8 -20
431:16 -34 10 -12 27 -23 -4 22 -30
432:-33 27 -5 19 1 -14 14 -34 6
433:2 -24 35 -29 -16 31 -21 10 -10
434:-18 19 -37 8 11 -8 -32 28 17
435:32 -12 14 -2 -30 25 7 -19 -7
436:-2 33 -19 24 -13 -29 20 -1 -25
437:19 -38 22 -21 5 12 -9 37 -15
438:-26 10 -9 13 -48 30 -16 4 21
439:11 -14 31 -33 18 -6 -35 16 -3
440:-36 23 -24 34 -7 3 9 -27 26
441:25 -3 1 -16 -22 38 -13 20 -11
442:-12 17 -32 9 30 -19 -1 -8 33
443:6 -29 27 -25 -11 10 24 -30 -4
444:-21 36 -11 21 -33 16 -22 11 8
445:29 -19 -4 -9 23 -37 3 31 -17
446:-7 5 -28 37 -3 8 -15 -16 19
447:15 -35 20 -14 14 -26 33 -2 -23
448:-30 28 -15 2 -24 21 -6 25 10
449:22 -8 9 -31 35 -12 -29 5 -1
450:-16 31 -36 17 -8 -1 16 -22 28
451:4 -22 24 -5 -19 33 -11 13 -34
452:-25 15 -2 28 -36 6 -21 38 -6
453:36 -11 -23 11 4 -28 19 -9 16
454:-5 21 -30 -20 25 14 -3 -32 2
455:17 -31 13 32 -13 -16 29 -1 -19
456:-32 4 -12 23 -27 36 -8 9 -10
457:9 -16 34 -36 12 -4 -25 22 30
458:-20 30 -8 7 -2 22 -34 -13 14
459:26 -25 17 -24 31 -9 3 -6 -28
460:-10 11 -27 35 -17 -32 24 15 5
461:14 -38 5 -12 20 10 -18 -29 37
462:-29 24 -17 27 -6 -21 12 1 -13
463:35 -4 29 -1 -33 17 -11 -24 8
464:-3 18 -34 14 9 -26 -1 34 -19
465:20 -24 3 -30 38 -10 23 -16 -7
466:-23 34 -21 10 -14 2 -36 11 25
467:7 -13 26 -18 -29 29 6 -4 -31
468:-36 16 -1 -8 22 -15 18 -35 12
469:12 -27 31 25 -11 -5 -23 8 -9
470:-14 3 -31 16 33 -36 10 -19 29
471:30 -20 8 -37 -1 19 -14 27 -4
472:-8 26 -15 4 -26 12 -30 2 18
473:23 -33 21 -22 15 -7 37 -11 -16
474:-27 9 -6 31 -10 -25 3 24 -35
475:5 -14 60 -13 -35 27 -19 14 1
476:-19 37 -25 20 -4 8 -8 -28 11
477:33 -7 12 -32 6 -18 29 -2 -23
478:-1 21 -37 9 -21 34 -12 17 -6
479:16 -29 19 -2 28 -30 -5 -14 26
480:-34 13 -10 38 -15 1 21 -33 7
481:10 -18 33 -26 3 -22 14 -7 -12
482:-24 30 -3 14 -31 24 -16 35 2
483:27 -5 -28 22 -9 7 -37 10 -19
484:-11 24 -19 -3 36 -13 5 -25 15
485:3 -37 28 -17 11 -28 32 -1 -8
486:-30 7 -9 30 -23 17 -20 22 -2
487:19 -21 36 -10 -5 4 -31 13 28
488:-6 32 -23 6 -33 21 -14 -8 -27
489:24 -11 2 -36 19 -3 27 -17 10
490:-15 58 -16 25 -12 38 -26 4 -4
491:13 -26 23 -20 9 -35 16 -10 31
492:-37 15 -32 11 -18 26 -5 30 -13
493:31 -3 -4 -24 34 -17 9 -29 3
494:-2 21 18 -33 -7 12 -21 33 -22
495:8 -30 27 -13 23 -6 -36 19 -1
496:-22 14 -14 26 -26 31 -9 2 17
`;

// extra LRR probes lying between the columns above (core of the band)
const lrrTableB = `
152.5:-22 -9 3 14 25 -15 7
153.5:18 -4 -19 9 -27 22 -1
154.5:-6 12 26 -13 1 -24 16
155.5:24 -17 -2 6 -11 19 -26
156.5:-14 21 8 -23 11 -5 27
157.5:4 -26 15 -8 20 -1 -18
158.5:-25 2 -12 23 -20 13 5
159.5:10 -21 27 -3 -16 6 -9
160.5:-20 -7 5 16 26 -13 9
161.5:16 -2 -21 11 -25 24 -3
162.5:-8 14 24 -11 3 -22 18
163.5:22 -15 0 8 -13 21 -24
164.5:-12 23 10 -21 13 -3 25
165.5:6 -24 17 -6 22 1 -16
166.5:-27 4 -10 25 -18 15 7
167.5:12 -19 25 -1 -14 8 -11
168.5:-24 -11 1 12 23 -17 5
169.5:20 -6 -17 7 -25 20 -3
170.5:-4 10 28 -15 -1 -26 14
171.5:26 -19 -4 4 -9 17 -22
172.5:-16 19 6 -25 9 -7 25
173.5:2 -28 13 -10 18 -3 -20
174.5:-23 0 -14 21 -22 11 3
175.5:8 -23 25 -5 -18 4 -7
176.5:-21 -8 4 15 27 -14 8
177.5:17 -3 -20 10 -26 23 -2
178.5:-7 13 25 -12 2 -23 17
179.5:23 -16 -1 7 -12 20 -25
180.5:-13 22 9 -22 12 -4 26
181.5:5 -25 16 -7 21 0 -17
182.5:-26 3 -11 24 -19 14 6
183.5:11 -20 26 -2 -15 7 -10
184.5:-23 -10 2 13 24 -16 6
185.5:19 -5 -18 8 -26 21 -2
186.5:-5 11 27 -14 0 -25 15
187.5:25 -18 -3 5 -10 18 -23
188.5:-15 20 7 -24 10 -6 26
189.5:3 -27 14 -9 19 -2 -19
190.5:-24 1 -13 22 -21 12 4
191.5:9 -22 26 -4 -17 5 -8
192.5:-19 -6 6 17 25 -12 10
193.5:15 -1 -22 12 -24 25 -4
194.5:-9 15 23 -10 4 -21 19
195.5:21 -14 1 9 -14 22 -23
196.5:-11 24 11 -20 14 -2 24
197.5:7 -23 18 -5 23 2 -15
198.5:-28 5 -9 26 -17 16 8
199.5:13 -18 24 0 -13 9 -12
200.5:-25 -12 0 11 22 -18 4
201.5:21 -7 -16 6 -24 19 -4
202.5:-3 9 27 -16 -2 -27 13
203.5:27 -20 -5 3 -8 16 -21
204.5:-17 18 5 -26 8 -8 24
205.5:1 -27 12 -11 17 -4 -21
206.5:-22 -1 -15 20 -23 10 2
207.5:7 -24 24 -6 -19 3 -6
208.5:-20 -9 3 14 26 -15 7
209.5:18 -3 -19 9 -27 23 -1
210.5:-6 13 26 -12 1 -24 17
211.5:24 -16 -2 6 -11 20 -26
212.5:-14 22 8 -23 12 -5 27
213.5:4 -25 15 -8 21 -1 -18
214.5:-25 3 -12 24 -20 14 5
215.5:10 -20 27 -3 -16 7 -9
216.5:-19 -7 5 17 26 -13 9
217.5:16 -1 -21 11 -25 24 -3
218.5:-8 15 24 -11 3 -22 19
219.5:22 -14 0 8 -13 22 -24
220.5:-12 24 10 -21 14 -3 25
221.5:6 -23 17 -6 23 1 -16
222.5:-27 5 -10 25 -18 16 7
223.5:12 -18 25 -1 -14 9 -11
224.5:-24 -10 1 12 24 -17 5
225.5:20 -5 -17 7 -25 21 -3
226.5:-4 11 28 -15 -1 -26 15
227.5:26 -18 -4 4 -9 18 -22
228.5:-16 20 6 -25 9 -7 26
229.5:2 -27 13 -10 19 -3 -20
230.5:-23 1 -14 21 -22 12 3
231.5:8 -22 25 -5 -18 5 -7
232.5:-21 -7 4 15 27 -14 9
233.5:17 -2 -20 10 -26 24 -2
234.5:-7 14 25 -12 2 -23 18
235.5:23 -15 -1 7 -12 21 -25
236.5:-13 23 9 -22 12 -4 27
237.5:5 -24 16 -7 22 0 -17
238.5:-26 4 -11 24 -19 15 6
239.5:11 -19 26 -2 -15 8 -10
240.5:-23 -9 2 13 25 -16 6
241.5:19 -4 -18 8 -26 22 -2
242.5:-5 12 27 -14 0 -25 16
243.5:25 -17 -3 5 -10 19 -23
244.5:-15 21 7 -24 10 -6 27
245.5:3 -26 14 -9 20 -2 -19
246.5:-24 2 -13 22 -21 13 4
247.5:9 -21 26 -4 -17 6 -8
248.5:-19 -5 6 17 26 -12 10
249.5:15 0 -22 12 -24 26 -4
250.5:-9 16 23 -10 4 -21 20
251.5:21 -13 1 9 -14 23 -23
252.5:-11 25 11 -20 15 -2 24
253.5:7 -22 18 -5 24 2 -15
254.5:-28 6 -9 26 -17 17 8
255.5:13 -17 24 0 -13 10 -12
256.5:-25 -11 0 11 23 -18 4
257.5:21 -6 -16 6 -24 20 -4
258.5:-3 10 27 -16 -2 -27 14
259.5:27 -19 -5 3 -8 17 -21
260.5:-17 19 5 -26 8 -8 25
261.5:1 -26 12 -11 18 -4 -21
262.5:-22 0 -15 20 -23 11 2
263.5:7 -23 24 -6 -19 4 -6
264.5:-21 -9 3 14 25 -15 8
265.5:18 -4 -19 9 -27 22 0
266.5:-6 12 26 -13 2 -24 16
267.5:24 -17 -2 7 -11 19 -26
268.5:-14 21 9 -23 11 -5 27
269.5:4 -26 15 -8 20 0 -18
270.5:-25 2 -12 23 -20 13 6
271.5:10 -21 27 -3 -16 6 -10
272.5:-20 -7 5 16 26 -13 10
273.5:16 -2 -21 11 -25 24 -4
274.5:-8 14 24 -11 3 -22 18
275.5:22 -15 0 8 -13 21 -25
276.5:-12 23 10 -21 13 -3 26
277.5:6 -24 17 -6 22 1 -17
278.5:-27 4 -10 25 -18 15 8
279.5:12 -19 25 -1 -14 8 -12
280.5:-24 -11 1 12 23 -17 6
281.5:20 -6 -17 7 -25 20 -4
282.5:-4 10 28 -15 -1 -26 15
283.5:26 -19 -4 4 -9 17 -23
284.5:-16 19 6 -25 9 -7 26
285.5:2 -28 13 -10 18 -3 -21
286.5:-23 0 -14 21 -22 11 4
287.5:8 -23 25 -5 -18 4 -8
288.5:-21 -8 4 15 27 -14 9
289.5:17 -3 -20 10 -26 23 -3
290.5:-7 13 25 -12 2 -23 18
291.5:23 -16 -1 7 -12 20 -26
292.5:-13 22 9 -22 12 -4 27
293.5:5 -25 16 -7 21 0 -18
294.5:-26 3 -11 24 -19 14 7
295.5:11 -20 26 -2 -15 7 -11
296.5:-23 -10 2 13 24 -16 7
297.5:19 -5 -18 8 -26 21 -3
298.5:-5 11 27 -14 0 -25 16
299.5:25 -18 -3 5 -10 18 -24
300.5:-15 20 7 -24 10 -6 27
301.5:3 -27 14 -9 19 -2 -20
302.5:-24 1 -13 22 -21 12 5
303.5:9 -22 26 -4 -17 5 -9
304.5:-19 -6 6 17 25 -12 11
305.5:15 -1 -22 12 -24 25 -5
306.5:-9 15 23 -10 4 -21 20
307.5:21 -14 1 9 -14 22 -24
308.5:-11 24 11 -20 14 -2 25
309.5:7 -23 18 -5 23 2 -16
310.5:-28 5 -9 26 -17 16 9
311.5:13 -18 24 0 -13 9 -13
312.5:-25 -12 0 11 22 -18 5
313.5:21 -7 -16 6 -24 19 -5
314.5:-3 9 27 -16 -2 -27 14
315.5:27 -20 -5 3 -8 16 -22
316.5:-17 18 5 -26 8 -8 25
317.5:1 -27 12 -11 17 -4 -22
318.5:-22 -1 -15 20 -23 10 3
319.5:7 -24 24 -6 -19 3 -7
320.5:-20 -9 3 14 26 -15 8
321.5:18 -3 -19 9 -27 23 -2
322.5:-6 13 26 -12 1 -24 18
323.5:24 -16 -2 6 -11 20 -27
324.5:-14 22 8 -23 12 -5 26
325.5:4 -25 15 -8 21 -1 -19
326.5:-25 3 -12 24 -20 14 6
327.5:10 -20 27 -3 -16 7 -10
328.5:-19 -7 5 17 26 -13 10
329.5:16 -1 -21 11 -25 24 -4
330.5:-8 15 24 -11 3 -22 20
331.5:22 -14 0 8 -13 22 -25
332.5:-12 24 10 -21 14 -3 26
333.5:6 -23 17 -6 23 1 -17
334.5:-27 5 -10 25 -18 16 8
335.5:12 -18 25 -1 -14 9 -12
336.5:-24 -10 1 12 24 -17 6
337.5:20 -5 -17 7 -25 21 -4
338.5:-4 11 28 -15 -1 -26 16
339.5:26 -18 -4 4 -9 18 -23
340.5:-16 20 6 -25 9 -7 27
341.5:2 -27 13 -10 19 -3 -21
342.5:-23 1 -14 21 -22 12 4
343.5:8 -22 25 -5 -18 5 -8
344.5:-21 -7 4 15 27 -14 10
345.5:17 -2 -20 10 -26 24 -3
346.5:-7 14 25 -12 2 -23 19
347.5:23 -15 -1 7 -12 21 -26
348.5:-13 23 9 -22 12 -4 26
349.5:5 -24 16 -7 22 0 -18
350.5:-26 4 -11 24 -19 15 7
351.5:11 -19 26 -2 -15 8 -11
352.5:-23 -9 2 13 25 -16 7
353.5:19 -4 -18 8 -26 22 -3
354.5:-5 12 27 -14 0 -25 17
355.5:25 -17 -3 5 -10 19 -24
356.5:-15 21 7 -24 10 -6 26
357.5:3 -26 14 -9 20 -2 -20 35 44
358.5:-24 2 -13 22 40 48 57 65 73 79 -21
359.5:9 -21 26 38 47 56 64 71 80 -17 -8
360.5:-19 -5 6 17 30 -12 11
361.5:15 0 -22 12 -24 26 -5
362.5:-9 16 23 -10 4 -21 21
363.5:21 -13 1 9 -14 23 -24
364.5:-11 25 11 -20 15 -2 25
365.5:7 -22 18 -5 24 2 -16
366.5:-28 6 -9 26 -17 17 9
367.5:13 -17 24 0 -13 10 -13
368.5:-25 -11 0 11 23 -18 5
369.5:21 -6 -16 6 -24 20 -5
370.5:-3 10 27 -16 -2 -27 15
371.5:27 -19 -5 3 -8 17 -22
372.5:-17 19 5 -26 8 -8 26
373.5:1 -26 12 -11 18 -4 -22
374.5:-22 0 -15 20 -23 11 3
375.5:7 -23 24 -6 -19 4 -7
376.5:-21 -9 3 14 25 -15 9
377.5:18 -4 -19 9 -27 22 -1
378.5:-6 12 26 -13 2 -24 17
379.5:24 -17 -2 7 -11 19 -27
380.5:-14 21 9 -23 11 -5 26
381.5:4 -26 15 -8 20 0 -19
382.5:-25 2 -12 23 -20 13 7
383.5:10 -21 27 -3 -16 6 -11
384.5:-20 -7 5 16 26 -13 11
385.5:16 -2 -21 11 -25 24 -5
386.5:-8 14 24 -11 3 -22 19
387.5:22 -15 0 8 -13 21 -26
388.5:-12 23 10 -21 13 -3 27
389.5:6 -24 17 -6 22 1 -18
390.5:-27 4 -10 25 -18 15 9
391.5:12 -19 25 -1 -14 8 -13
392.5:-24 -11 1 12 23 -17 7
393.5:20 -6 -17 7 -25 20 -5
394.5:-4 10 28 -15 -1 -26 16
395.5:26 -19 -4 4 -9 17 -24
396.5:-16 19 6 -25 9 -7 27
397.5:2 -28 13 -10 18 -3 -22
398.5:-23 0 -14 21 -22 11 5
399.5:8 -23 25 -5 -18 4 -9
400.5:-21 -8 4 15 27 -14 10
401.5:17 -3 -20 10 -26 23 -4
402.5:-7 13 25 -12 2 -23 19
403.5:23 -16 -1 7 -12 20 -27
404.5:-13 22 9 -22 12 -4 26
405.5:5 -25 16 -7 21 0 -19
406.5:-26 3 -11 24 -19 14 8
407.5:11 -20 26 -2 -15 7 -12
408.5:-23 -10 2 13 24 -16 8
409.5:19 -5 -18 8 -26 21 -4
410.5:-5 11 27 -14 0 -25 17
411.5:25 -18 -3 5 -10 18 -25
412.5:-15 20 7 -24 10 -6 26
413.5:3 -27 14 -9 19 -2 -21
414.5:-24 1 -13 22 -21 12 6
415.5:9 -22 26 -4 -17 5 -10
416.5:-19 -6 6 17 25 -12 12
417.5:15 -1 -22 12 -24 25 -6
418.5:-9 15 23 -10 4 -21 21
419.5:21 -14 1 9 -14 22 -25
420.5:-11 24 11 -20 14 -2 26
421.5:7 -23 18 -5 23 2 -17
422.5:-28 5 -9 26 -17 16 10
423.5:13 -18 24 0 -13 9 -14
424.5:-25 -12 0 11 22 -18 6
425.5:21 -7 -16 6 -24 19 -6
426.5:-3 9 27 -16 -2 -27 15
427.5:27 -20 -5 3 -8 16 -23
428.5:-17 18 5 -26 8 -8 26
429.5:1 -27 12 -11 17 -4 -23
430.5:-22 -1 -15 20 -23 10 4
431.5:7 -24 24 -6 -19 3 -8
432.5:-20 -9 3 14 26 -15 9
433.5:18 -3 -19 9 -27 23 -3
434.5:-6 13 26 -12 1 -24 19
435.5:24 -16 -2 6 -11 20 -25
436.5:-14 22 8 -23 12 -5 25
437.5:4 -25 15 -8 21 -1 -20
438.5:-25 3 -12 24 -20 14 7
439.5:10 -20 27 -3 -16 7 -11
440.5:-19 -7 5 17 26 -13 11
441.5:16 -1 -21 11 -25 24 -5
442.5:-8 15 24 -11 3 -22 21
443.5:22 -14 0 8 -13 22 -26
444.5:-12 24 10 -21 14 -3 27
445.5:6 -23 17 -6 23 1 -18
446.5:-27 5 -10 25 -18 16 9
447.5:12 -18 25 -1 -14 9 -13
448.5:-24 -10 1 12 24 -17 7
449.5:20 -5 -17 7 -25 21 -5
450.5:-4 11 28 -15 -1 -26 17
451.5:26 -18 -4 4 -9 18 -24
452.5:-16 20 6 -25 9 -7 26
453.5:2 -27 13 -10 19 -3 -22
454.5:-23 1 -14 21 -22 12 5
455.5:8 -22 25 -5 -18 5 -9
456.5:-21 -7 4 15 27 -14 11
457.5:17 -2 -20 10 -26 24 -4
458.5:-7 14 25 -12 2 -23 20
459.5:23 -15 -1 7 -12 21 -27
460.5:-13 23 9 -22 12 -4 25
461.5:5 -24 16 -7 22 0 -19
462.5:-26 4 -11 24 -19 15 8
463.5:11 -19 26 -2 -15 8 -12
464.5:-23 -9 2 13 25 -16 8
465.5:19 -4 -18 8 -26 22 -4
466.5:-5 12 27 -14 0 -25 18
467.5:25 -17 -3 5 -10 19 -25
468.5:-15 21 7 -24 10 -6 27
469.5:3 -26 14 -9 20 -2 -21
470.5:-24 2 -13 22 -21 13 5
471.5:9 -21 26 -4 -17 6 -10
472.5:-19 -5 6 17 26 -12 12
473.5:15 0 -22 12 -24 26 -6
474.5:-9 16 23 -10 4 -21 22
475.5:21 -13 1 9 -14 23 -25
476.5:-11 25 11 -20 15 -2 26
477.5:7 -22 18 -5 24 2 -17
478.5:-28 6 -9 26 -17 17 10
479.5:13 -17 24 0 -13 10 -14
480.5:-25 -11 0 11 23 -18 6
481.5:21 -6 -16 6 -24 20 -6
482.5:-3 10 27 -16 -2 -27 16
483.5:27 -19 -5 3 -8 17 -23
484.5:-17 19 5 -26 8 -8 27
485.5:1 -26 12 -11 18 -4 -23
486.5:-22 0 -15 20 -23 11 4
487.5:7 -23 24 -6 -19 4 -8
488.5:-21 -9 3 14 25 -15 10
489.5:18 -4 -19 9 -27 22 -2
490.5:-6 12 26 -13 2 -24 18
491.5:24 -17 -2 7 -11 19 -28
492.5:-14 21 9 -23 11 -5 25
493.5:4 -26 15 -8 20 0 -20
494.5:-25 2 -12 23 -20 13 8
495.5:10 -21 27 -3 -16 6 -12
`;

// smoothed LRR (red line): positions (100 kb units) and values
const smoothPos = [144,148,152,156,160,164,168,171.5,175,178,182,186,190,194,198,201,205,209,212,216,220,225,230,235,240,245,248,251,255,259,263,266,269,273,277,280,284,288,292,296,300,304,307,311,315,320,325,330,335,340,345,350,353,356.5,359.7,363.5,367,371,375,379,383,387,391,393.5,396,400,404,408,412,416,420,423,427,431,436,440,445,450,455,460,465,469,472,476,480,484,488,492,496];
const smoothLrr = [-0.045,-0.04,-0.03,-0.02,-0.01,-0.005,-0.005,-0.01,-0.065,-0.025,-0.015,-0.015,-0.01,-0.01,-0.005,0,0.005,0.01,0.03,0.005,0,0,-0.005,0,0,0,-0.02,-0.015,0,0.005,0,-0.025,-0.02,0.015,0.01,0.01,-0.005,-0.005,-0.005,0,0,0.01,0.02,0.005,0,0,0.005,0,0.005,0.005,0.005,0.005,0.005,0.005,0.2,0.005,0.01,0.01,0.01,0.005,-0.015,-0.015,-0.015,-0.01,0.025,-0.005,-0.005,0,-0.005,-0.005,-0.005,0.02,0,0,0.02,0,0.005,0,0,0.005,0,-0.02,0,0,0.005,0,0,0.005,0];

// ---- build point lists ----
function tableRows(txt){ return txt.trim().split('\n').map(l => l.split(':')); }
function addValues(arr, x, s){ if (s && s.trim()) s.trim().split(/\s+/).forEach(v => arr.push([x, +v / 100])); }
const bafHigh = [], bafHet = [], bafLow = [], lrrPoints = [];
[bafTable, bafTableB].forEach(t => tableRows(t).forEach(([p, h, m, l]) => {
  const x = +p * POS_UNIT; addValues(bafHigh, x, h); addValues(bafHet, x, m); addValues(bafLow, x, l);
}));
[lrrTable, lrrTableB].forEach(t => tableRows(t).forEach(([p, v]) => addValues(lrrPoints, +p * POS_UNIT, v)));
const smoothData = smoothPos.map((p, i) => [p * POS_UNIT, smoothLrr[i]]);
const xLabelMap = {}; xTickValues.forEach((v, i) => { xLabelMap[v] = xTickLabels[i]; });

const FONT = '"Liberation Sans", Arial, Helvetica, sans-serif';
const AXIS_LINE = { show: true, lineStyle: { color: '#000', width: 1.3 } };
const AXIS_TICK = { show: true, length: 14, lineStyle: { color: '#000', width: 1.3 } };
const circle = { color: 'rgba(0,0,0,0)', borderColor: '#000', borderWidth: 2.2 };
const dash = { type: [11, 6], color: '#222', width: 1.3 };
function scatter(data, xi, yi){
  return { type: 'scatter', xAxisIndex: xi, yAxisIndex: yi, data, symbol: 'circle', symbolSize: 7.5,
    itemStyle: circle, large: false, progressive: 0, clip: false, silent: true, z: 2, animation: false };
}
function refLines(vals, xi, yi){
  return { type: 'line', xAxisIndex: xi, yAxisIndex: yi, data: [], z: 10, silent: true,
    markLine: { silent: true, symbol: 'none', animation: false, label: { show: false }, lineStyle: dash,
      data: vals.map(v => ({ yAxis: v })) } };
}
function labelFrom(list){
  return v => { const hit = list.find(t => Math.abs(t - v) < 1e-6); return hit === undefined ? '' : hit.toFixed(1); };
}

const chart = echarts.init(document.getElementById('c'), null, { renderer: 'canvas' });
chart.setOption({
  animation: false,
  backgroundColor: '#fff',
  title: { text: chartTitle, left: 822, top: 16, textAlign: 'center',
    textStyle: { fontFamily: FONT, fontSize: 30, fontWeight: 'bold', color: '#000' } },
  grid: [
    { left: 119, right: 60, top: 68.3, height: 210.7, outerBoundsMode: 'none' },
    { left: 119, right: 60, top: 352.3, height: 162.7, outerBoundsMode: 'none' },
    { left: 193, right: 97, top: 515, height: 1, outerBoundsMode: 'none' }
  ],
  xAxis: [
    { gridIndex: 0, type: 'value', min: 1.3e7, max: 5.1e7, show: false },
    { gridIndex: 1, type: 'value', min: 1.3e7, max: 5.1e7, show: false },
    { gridIndex: 2, type: 'value', min: 1.5e7, max: 5.0e7, interval: 5e6, position: 'bottom',
      axisLine: AXIS_LINE, axisTick: AXIS_TICK, splitLine: { show: false },
      axisLabel: { margin: 31, fontFamily: FONT, fontSize: 26, color: '#000', formatter: v => xLabelMap[v] || '' } }
  ],
  yAxis: [
    { gridIndex: 0, type: 'value', min: 0, max: 1, interval: 0.2,
      name: 'BAF', nameLocation: 'middle', nameRotate: 90, nameGap: 91,
      nameTextStyle: { fontFamily: FONT, fontSize: 27, color: '#000' },
      axisLine: AXIS_LINE, axisTick: AXIS_TICK, splitLine: { show: false },
      axisLabel: { rotate: 90, margin: 32, fontFamily: FONT, fontSize: 26, color: '#000', formatter: labelFrom(bafLabelValues) } },
    { gridIndex: 1, type: 'value', min: -1.5, max: 0.5, interval: 0.5,
      name: 'LRR', nameLocation: 'middle', nameRotate: 90, nameGap: 91,
      nameTextStyle: { fontFamily: FONT, fontSize: 27, color: '#000' },
      axisLine: AXIS_LINE, axisTick: AXIS_TICK, splitLine: { show: false },
      axisLabel: { rotate: 90, margin: 32, fontFamily: FONT, fontSize: 26, color: '#000', formatter: labelFrom(lrrLabelValues) } },
    { gridIndex: 2, type: 'value', min: 0, max: 1, show: false }
  ],
  series: [
    scatter(bafHigh, 0, 0),
    scatter(bafHet, 0, 0),
    scatter(bafLow, 0, 0),
    refLines(bafRefLines, 0, 0),
    scatter(lrrPoints, 1, 1),
    { type: 'line', xAxisIndex: 1, yAxisIndex: 1, data: smoothData, showSymbol: false, symbol: 'none',
      lineStyle: { color: '#ff0000', width: 3 }, z: 5, silent: true, clip: false },
    refLines(lrrRefLines, 1, 1)
  ]
});
</script>
</body></html>
